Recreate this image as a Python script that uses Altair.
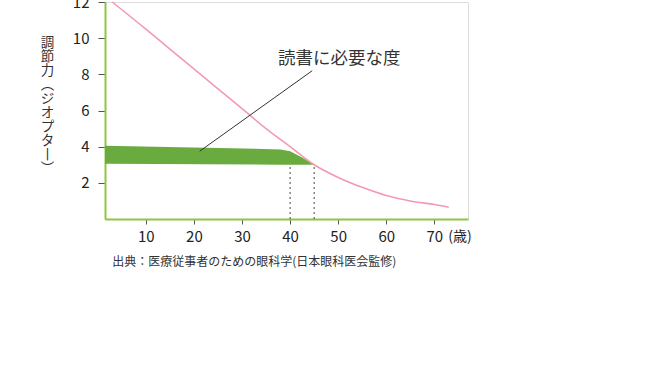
import altair as alt
import pandas as pd

# --- data ---
ages = [3, 10, 15, 20, 25, 30, 35, 40, 45, 50, 55, 60, 65, 70, 73]
amplitude = [12.0, 10.5, 9.4, 8.3, 7.2, 6.1, 5.0, 4.0, 3.0, 2.3, 1.75, 1.3, 1.0, 0.8, 0.65]

band_ages = [1.5, 38, 40, 42.5, 45]
band_top = [4.05, 3.85, 3.75, 3.4, 3.0]
band_bottom = [3.05, 3.0, 3.0, 3.0, 3.0]

dotted_ages = [40, 45]
dotted_top = [3.0, 3.0]
dotted_bottom = [0.0, 0.0]

x_ticks = [10, 20, 30, 40, 50, 60, 70]
y_ticks = [2, 4, 6, 8, 10, 12]

y_title = ["調", "節", "力", "︵", "ジ", "オ", "プ", "タ", "丨", "︶"]
label_text = "読書に必要な度"
unit_text = "(歳)"
source_text = "出典：医療従事者のための眼科学(日本眼科医会監修)"

FONT = "Noto Sans CJK JP"
X_DOMAIN = [1.5, 77]
Y_DOMAIN = [0, 12]

curve_df = pd.DataFrame({"age": ages, "amp": amplitude})
band_df = pd.DataFrame({"age": band_ages, "top": band_top, "bottom": band_bottom})
dotted_df = pd.DataFrame({"age": dotted_ages, "top": dotted_top, "bottom": dotted_bottom})
pointer_df = pd.DataFrame({"x1": [21.2], "x2": [44.6], "y1": [3.75], "y2": [8.2]})
label_df = pd.DataFrame({"x": [50.2], "y": [8.85], "t": [label_text]})
unit_df = pd.DataFrame({"x": [72.9], "y": [-1.0], "t": [unit_text]})
source_df = pd.DataFrame({"x": [3.0], "y": [-2.4], "t": [source_text]})

xs = alt.Scale(domain=X_DOMAIN, nice=False, zero=False)
ys = alt.Scale(domain=Y_DOMAIN, nice=False)

x_axis = alt.Axis(values=x_ticks, title=None, grid=False, domainColor="#8dc63f",
                  domainWidth=2, tickColor="#555", tickSize=5,
                  labelFontSize=15, labelColor="#222", labelPadding=5, labelFont=FONT)
y_axis = alt.Axis(values=y_ticks, title=y_title, grid=False, domainColor="#8dc63f",
                  domainWidth=2, tickColor="#555", tickSize=7,
                  labelFontSize=15, labelColor="#222", labelPadding=9, labelFont=FONT,
                  titleAngle=0, titleX=-58, titleY=33, titleAlign="center",
                  titleBaseline="top", titleLineHeight=14, titleFontSize=13.5,
                  titleFontWeight="normal", titleColor="#333", titleFont=FONT)

band = alt.Chart(band_df).mark_area(color="#6aab3f", opacity=1).encode(
    x=alt.X("age:Q", scale=xs, axis=x_axis),
    y=alt.Y("top:Q", scale=ys, axis=y_axis),
    y2="bottom:Q",
)

curve = alt.Chart(curve_df).mark_line(color="#f29ab2", strokeWidth=1.6, interpolate="monotone").encode(
    x=alt.X("age:Q", scale=xs),
    y=alt.Y("amp:Q", scale=ys),
)

dotted = alt.Chart(dotted_df).mark_rule(color="#444", strokeDash=[2, 3], strokeWidth=1).encode(
    x=alt.X("age:Q", scale=xs),
    y=alt.Y("bottom:Q", scale=ys),
    y2="top:Q",
)

pointer = alt.Chart(pointer_df).mark_rule(color="#333", strokeWidth=1).encode(
    x=alt.X("x1:Q", scale=xs), x2="x2:Q",
    y=alt.Y("y1:Q", scale=ys), y2="y2:Q",
)

label = alt.Chart(label_df).mark_text(
    font=FONT, fontSize=17.5, color="#333", align="center", baseline="middle"
).encode(x=alt.X("x:Q", scale=xs), y=alt.Y("y:Q", scale=ys), text="t:N")

unit = alt.Chart(unit_df).mark_text(
    font=FONT, fontSize=14, color="#222", align="left", baseline="middle"
).encode(x=alt.X("x:Q", scale=xs), y=alt.Y("y:Q", scale=ys), text="t:N")

source = alt.Chart(source_df).mark_text(
    font=FONT, fontSize=12, color="#333", align="left", baseline="middle"
).encode(x=alt.X("x:Q", scale=xs), y=alt.Y("y:Q", scale=ys), text="t:N")

chart = alt.layer(band, curve, dotted, pointer, label, unit, source).properties(
    width=363, height=217,
    autosize=alt.AutoSizeParams(type="none"),
    padding={"left": 105, "top": 2, "right": 204, "bottom": 153},
).configure_view(stroke=None).configure(font=FONT)

chart.save("out.html", embed_options={"renderer": "svg", "actions": False})
